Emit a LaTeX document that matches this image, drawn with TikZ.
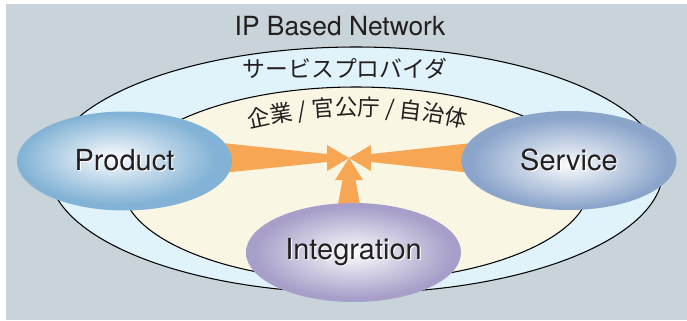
\documentclass[tikz,border=0pt]{standalone}
\usepackage{fontspec}
\setmainfont{TeX Gyre Heros}
\newfontfamily\jpfont{Noto Sans CJK JP}
\usetikzlibrary{shapes.geometric,calc,backgrounds,decorations.text}

\definecolor{bggray}{RGB}{200,212,217}
\definecolor{spblue}{RGB}{224,243,250}
\definecolor{orgcream}{RGB}{250,246,228}
\definecolor{arroworange}{RGB}{247,166,83}
\definecolor{prodblue}{RGB}{130,178,213}
\definecolor{servblue}{RGB}{138,164,202}
\definecolor{integviolet}{RGB}{167,159,201}
\definecolor{textgray}{RGB}{35,31,32}

\pgfdeclareradialshading{prodshade}{\pgfpoint{-3bp}{2bp}}{color(0bp)=(white!96!prodblue); color(23bp)=(prodblue); color(50bp)=(prodblue)}
\pgfdeclareradialshading{servshade}{\pgfpoint{0bp}{-2bp}}{color(0bp)=(white!96!servblue); color(23bp)=(servblue); color(50bp)=(servblue)}
\pgfdeclareradialshading{integshade}{\pgfpoint{0bp}{0bp}}{color(0bp)=(white!96!integviolet); color(23bp)=(integviolet); color(50bp)=(integviolet)}

\newcommand{\shadowed}[1]{\makebox[0pt][l]{\hspace{0.7pt}\raisebox{-0.7pt}{\color{white}#1}}#1}

\begin{document}
\begin{tikzpicture}[ball/.style={ellipse,minimum width=4.3cm,minimum height=1.98cm,inner sep=0pt,text=textgray,font=\fontsize{16.5}{18}\selectfont},
  flow/.style={fill=arroworange},
  rim/.style={draw=black,line width=0.6pt}]
\useasboundingbox (0,0) rectangle (13.74,6.4);
\node at (2.49,3.18) [ball,shading=prodshade] (prod) {\shadowed{Product}};
\node at (11.38,3.19) [ball,shading=servshade] (serv) {\shadowed{Service}};
\node at (7.07,1.35) [ball,shading=integshade] (integ) {\shadowed{Integration}};
\coordinate (hub) at (6.98,3.24);
\node at (6.80,5.88) [text=textgray,font=\fontsize{15}{17}\selectfont] (net) {IP Based Network};
\node at (6.90,5.02) [text=textgray,font=\jpfont\fontsize{13}{15}\selectfont] (sp) {サービスプロバイダ};
\path[decorate,decoration={text along path,text align=center,
  text={|\jpfont\fontsize{12.8}{15}\selectfont\color{textgray}|企業 / 官公庁 / 自治体}}]
  (4.50,3.70) .. controls (6.27,4.22) and (8.03,4.22) .. (9.80,3.70);
\begin{scope}[on background layer]
\fill[bggray] (0.12,0) rectangle (13.74,6.32);
\draw[rim,fill=spblue] (7.12,3.0) ellipse [x radius=6.14,y radius=2.46];
\draw[rim,fill=orgcream] (7.12,2.72) ellipse [x radius=4.68,y radius=1.94];
\fill[flow] ($(prod.east |- hub)+(-0.4,0.32)$) -- ($(hub)+(-0.44,0.08)$) -- ($(hub)+(-0.44,0.26)$) -- (hub)
  -- ($(hub)+(-0.44,-0.26)$) -- ($(hub)+(-0.44,-0.08)$) -- ($(prod.east |- hub)+(-0.4,-0.32)$) -- cycle;
\fill[flow] ($(serv.west |- hub)+(0.4,0.32)$) -- ($(hub)+(0.44,0.08)$) -- ($(hub)+(0.44,0.26)$) -- (hub)
  -- ($(hub)+(0.44,-0.26)$) -- ($(hub)+(0.44,-0.08)$) -- ($(serv.west |- hub)+(0.4,-0.32)$) -- cycle;
\fill[flow] ($(integ.north -| hub)+(-0.27,-0.3)$) -- ($(hub)+(-0.13,-0.44)$) -- ($(hub)+(-0.28,-0.44)$) -- (hub)
  -- ($(hub)+(0.28,-0.44)$) -- ($(hub)+(0.13,-0.44)$) -- ($(integ.north -| hub)+(0.27,-0.3)$) -- cycle;
\end{scope}
\end{tikzpicture}
\end{document}
